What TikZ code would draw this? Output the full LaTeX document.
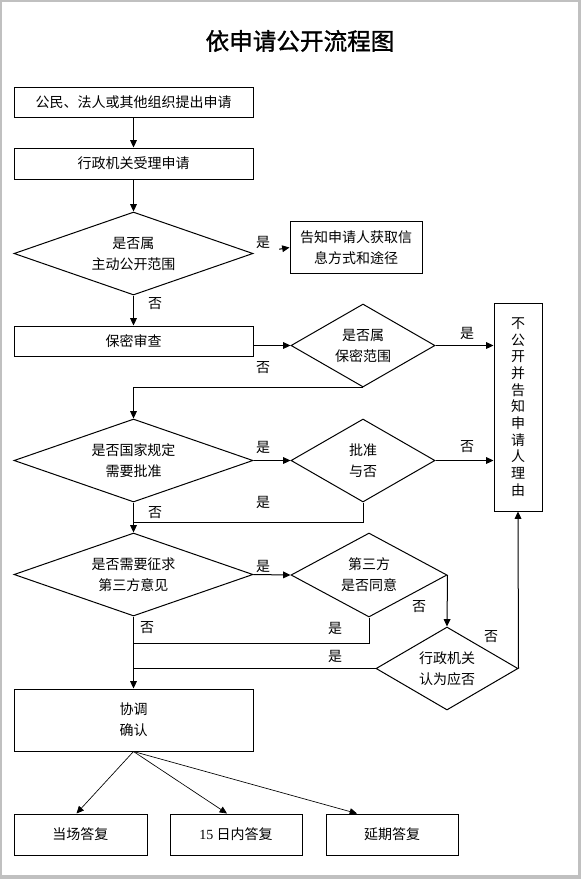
\documentclass[tikz,border=0pt]{standalone}
\usepackage{fontspec}
\setmainfont{Noto Sans CJK SC}
\newfontfamily\latinserif{Liberation Serif}
\newfontfamily\titlefont[FakeBold=1.2]{Noto Sans CJK SC}
\usetikzlibrary{shapes.geometric,arrows.meta,calc}
\definecolor{framegray}{RGB}{192,192,192}
\begin{document}
\begin{tikzpicture}[x=0.75pt,y=-0.75pt,
  line width=0.75pt,
  sz/.style 2 args={minimum width=#1*0.75pt,minimum height=#2*0.75pt},
  box/.style={draw, rectangle, inner sep=0pt, align=center, font=\fontsize{10.5}{15.75}\selectfont},
  dia/.style={draw, diamond, inner sep=0pt, align=center, font=\fontsize{10.5}{15.75}\selectfont},
  arr/.style={-{Triangle[length=5.5pt,width=5pt]}},
  lbl/.style={inner sep=0pt, font=\fontsize{10.5}{12}\selectfont}]
\useasboundingbox (0,0) rectangle (581,879);
\fill[framegray] (0,0) rectangle (581,879);
\fill[white] (2,2) rectangle (578,875);

\node[inner sep=0pt, font=\titlefont\fontsize{17.7}{20}\selectfont] (title) at (300,41) {依申请公开流程图};

\node[box, sz={239}{30}] (b1) at (133.5,102) {公民、法人或其他组织提出申请};
\node[box, sz={239}{31}] (b2) at (133.5,163.5) {行政机关受理申请};
\node[dia, sz={239}{83}, aspect=2.88] (d1) at (133.5,253.5) {是否属\\主动公开范围};
\node[box, sz={132}{52}] (tell) at (356,247.5) {告知申请人获取信\\息方式和途径};
\node[box, sz={239}{30}] (b3) at (133.5,341) {保密审查};
\node[dia, sz={144}{83}, aspect=1.73] (d2) at (363,345.5) {是否属\\保密范围};
\node[box, sz={48}{208}, font=\fontsize{10.5}{12.5}\selectfont] (nb) at (518,407) {不\\公\\开\\并\\告\\知\\申\\请\\人\\理\\由};
\node[dia, sz={239}{83}, aspect=2.88] (d3) at (133.5,460.5) {是否国家规定\\需要批准};
\node[dia, sz={144}{83}, aspect=1.73] (d4) at (363,460.5) {批准\\与否};
\node[dia, sz={239}{83}, aspect=2.88] (d5) at (133.5,574.5) {是否需要征求\\第三方意见};
\node[dia, sz={156}{84}, aspect=1.86] (d6) at (369,575) {第三方\\是否同意};
\node[dia, sz={142}{83}, aspect=1.71] (d7) at (447,668.5) {行政机关\\认为应否};
\node[box, sz={239}{62}] (b4) at (133.5,720) {协调\\确认};
\node[box, sz={133}{41}] (r1) at (80.5,834.5) {当场答复};
\node[box, sz={132}{41}] (r2) at (236,834.5) {{\latinserif 15} 日内答复};
\node[box, sz={132}{41}] (r3) at (392,834.5) {延期答复};

\coordinate (j1) at (133.5,522);
\coordinate (j2) at (133.5,643);

\draw[arr] (b1) -- (b2);
\draw[arr] (b2) -- (d1);
\draw[arr, shorten <=26*0.75pt] (d1.east) -- (tell.west);
\draw[arr] (d1) -- (b3);
\draw[arr] (d2.west -| b3.east) -- (d2.west);
\draw[arr] (d2.east) -- (d2.east -| nb.west);
\draw[arr] (d2.south) -| (d3.north);
\draw[arr] (d3.east) -- (d4.west);
\draw[arr] (d4.east) -- (d4.east -| nb.west);
\draw (d4.south) |- (j1);
\draw[arr] (d3.south) -- (d5.north);
\draw[arr] (d5.east) -- (d6.west);
\draw[arr] (d6.east) -- (d7.north);
\draw (d6.south) |- (j2);
\draw (d7.west) -- (d7.west -| d5.south);
\draw[arr] (d7.east) -- (nb.south);
\draw[arr] (d5.south) -- (b4.north);
\draw[arr, line width=0.5pt] (b4.south) -- ($(r1.north)+(-4,0)$);
\draw[arr, line width=0.5pt] (b4.south) -- ($(r2.north)+(-9,0)$);
\draw[arr, line width=0.5pt] (b4.south) -- ($(r3.north)+(-35,0)$);

\node[lbl] (l1) at (263,242) {是};
\node[lbl] (l2) at (155,304) {否};
\node[lbl] (l3) at (263,368) {否};
\node[lbl] (l4) at (467,333) {是};
\node[lbl] (l5) at (263,447) {是};
\node[lbl] (l6) at (467,447) {否};
\node[lbl] (l7) at (263,502) {是};
\node[lbl] (l8) at (155,513) {否};
\node[lbl] (l9) at (263,566) {是};
\node[lbl] (l10) at (419,607) {否};
\node[lbl] (l11) at (147,628) {否};
\node[lbl] (l12) at (335,628) {是};
\node[lbl] (l13) at (335,656) {是};
\node[lbl] (l14) at (491,637) {否};
\end{tikzpicture}
\end{document}
